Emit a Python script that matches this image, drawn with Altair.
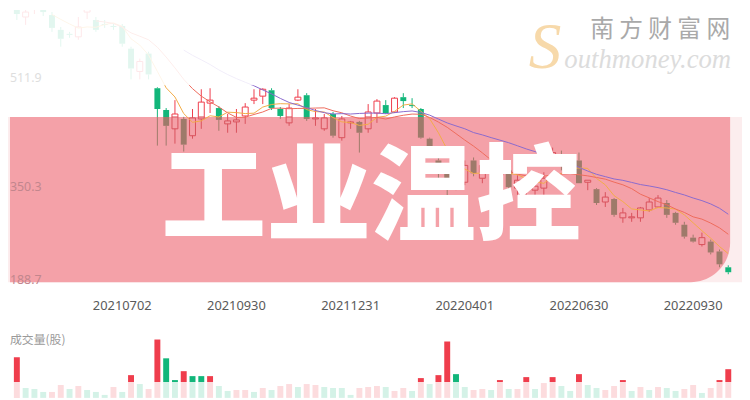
import altair as alt
import pandas as pd

# ---------------- data (weekly candles) ----------------
opens = [631.1, 601.9, 615.0, 616.5, 604.8, 582.9, 577.0, 572.6, 609.2, 597.5,
         591.6, 588.7, 588.7, 555.1, 521.4, 547.8, 496.6, 464.4, 436.6, 451.2,
         426.4, 451.2, 474.6, 467.3, 443.9, 446.8, 455.6, 479.0, 484.9, 493.6,
         465.9, 445.4, 479.0, 486.3, 451.2, 436.6, 458.5, 423.5, 445.4, 446.8,
         436.6, 460.0, 471.7, 461.5, 483.4, 471.7, 465.9, 422.0, 389.8, 375.2,
         353.3, 357.6, 389.8, 363.5, 382.5, 367.9, 375.2, 348.9, 345.9, 345.9,
         348.9, 392.7, 397.1, 382.5, 389.8, 357.6, 347.4, 328.4, 332.8, 305.0,
         305.0, 305.0, 316.7, 321.1, 326.9, 312.3, 294.8, 275.7, 265.5, 269.9,
         255.3, 231.9]
closes = [606.3, 609.2, 618.0, 609.2, 585.8, 569.7, 575.5, 587.2, 618.0, 582.9,
          590.2, 587.2, 562.4, 525.8, 536.1, 517.0, 465.9, 441.0, 458.5, 413.2,
          452.7, 476.1, 479.0, 449.8, 448.3, 449.8, 468.8, 481.9, 495.1, 467.3,
          455.6, 467.3, 483.4, 451.2, 452.7, 452.7, 426.4, 451.2, 446.8, 430.8,
          461.5, 477.6, 460.0, 481.9, 477.6, 470.2, 423.5, 404.4, 378.1, 353.3,
          367.9, 382.5, 370.8, 382.5, 372.3, 378.1, 350.3, 360.6, 353.3, 351.8,
          363.5, 401.5, 382.5, 389.8, 356.2, 360.6, 326.9, 335.7, 309.4, 312.3,
          306.5, 319.6, 328.4, 334.2, 309.4, 297.7, 277.2, 269.9, 275.7, 253.8,
          236.3, 224.6]
highs = [638.4, 623.8, 623.8, 620.9, 609.2, 587.2, 579.9, 601.9, 623.8, 601.9,
         597.5, 591.6, 591.6, 558.0, 540.4, 550.7, 498.0, 467.3, 479.0, 454.2,
         465.9, 495.1, 496.6, 470.2, 458.5, 465.9, 474.6, 495.1, 496.6, 496.6,
         468.8, 473.2, 495.1, 489.3, 465.9, 458.5, 461.5, 455.6, 448.3, 448.3,
         473.2, 480.5, 479.0, 483.4, 489.3, 481.9, 467.3, 423.5, 397.1, 382.5,
         375.2, 389.8, 394.2, 389.8, 389.8, 385.4, 382.5, 367.9, 360.6, 360.6,
         372.3, 408.8, 404.4, 397.1, 401.5, 360.6, 348.9, 343.0, 334.2, 319.6,
         312.3, 321.1, 334.2, 338.6, 331.3, 313.8, 299.1, 280.1, 283.1, 272.8,
         258.2, 234.8]
lows = [597.5, 590.2, 606.3, 603.3, 579.9, 558.0, 571.2, 568.2, 598.9, 579.9,
        585.8, 582.9, 558.0, 509.7, 509.7, 509.7, 411.8, 411.8, 414.7, 403.0,
        422.0, 436.6, 460.0, 433.7, 430.8, 430.8, 443.9, 473.2, 473.2, 464.4,
        451.2, 441.0, 477.6, 448.3, 441.0, 433.7, 423.5, 419.1, 436.6, 401.5,
        430.8, 445.4, 458.5, 460.0, 467.3, 467.3, 422.0, 401.5, 360.6, 331.3,
        345.9, 353.3, 366.4, 356.2, 363.5, 360.6, 331.3, 338.6, 334.2, 338.6,
        338.6, 389.8, 375.2, 375.2, 356.2, 345.9, 324.0, 321.1, 306.5, 297.7,
        299.1, 299.1, 313.8, 319.6, 305.0, 294.8, 274.3, 268.4, 262.6, 250.9,
        231.9, 221.6]
volumes = [41, 10, 9, 6, 6, 13, 9, 12, 8, 6,
           3, 11, 6, 23, 14, 9, 59, 40, 18, 27,
           22, 22, 22, 12, 7, 8, 8, 6, 10, 8,
           12, 14, 11, 14, 13, 11, 10, 10, 3, 10,
           11, 12, 11, 7, 10, 7, 20, 14, 23, 57,
           24, 11, 8, 9, 8, 18, 9, 9, 21, 9,
           15, 21, 12, 7, 24, 13, 10, 8, 12, 18,
           7, 11, 8, 11, 10, 7, 9, 13, 5, 10,
           18, 29]
volume_dir = list("RGGGRRGRGG" "GRGRGRRGGR" "GGRGGRRGRG" "RRGRRGGGGR"
                  "RRGRRGRGRR" "GGRRGRGRRG" "RRGGRGGRRR" "GRGRGGRRGR" "RR")
x_tick_index = [12, 25, 38, 51, 64, 77]
x_tick_labels = ["20210702", "20210930", "20211231", "20220401", "20220630", "20220930"]
y_tick_values = [511.9, 350.3, 188.7]
title_text = "工业温控"
watermark_cn = "南 方 财 富 网"
watermark_s = "S"
watermark_en = "outhmoney.com"
volume_title = "成交量(股)"

# ---------------- layout / styles ----------------
W, H = 742, 392
X_DOMAIN = [-0.4444, 82.0]
P_DOMAIN = [38.8, 612.1]
V_DOMAIN = [0, 60]
UP, DOWN = "#ef3d4c", "#12b67a"
IN_UP, IN_DOWN = "#d9525c", "#9e7a6a"
BAND = "#f4a1a8"
BAND_Y0, BAND_Y1 = 108, 275


def px_to_price(p):
    return P_DOMAIN[1] - p / H * (P_DOMAIN[1] - P_DOMAIN[0])


BT, BB = px_to_price(BAND_Y0), px_to_price(BAND_Y1)

n = len(opens)
df = pd.DataFrame({"i": range(n), "open": opens, "close": closes,
                   "high": highs, "low": lows})
df["top"] = df[["open", "close"]].max(axis=1)
df["bot"] = df[["open", "close"]].min(axis=1)
df["dir"] = ["up" if c >= o else "down" for o, c in zip(opens, closes)]

segs = []
for r in df.itertuples():
    if r.high > r.top:
        segs.append((r.i, r.dir, r.high, r.top))
    if r.bot > r.low:
        segs.append((r.i, r.dir, r.bot, r.low))
wick = pd.DataFrame(segs, columns=["i", "dir", "y", "y2"])


def clip_df(d, a, b):
    out = d.copy()
    out["y"] = out[a].clip(upper=BT)
    out["y2"] = out[b].clip(lower=BB)
    out = out[(out["y"] > out["y2"]) & (out["i"] <= 80)]
    return out


wick_in = clip_df(wick, "y", "y2")
body_in = clip_df(df, "top", "bot")

vdf = pd.DataFrame({"i": range(n), "vol": volumes, "vdir": volume_dir})

xs = alt.Scale(domain=X_DOMAIN, nice=False, zero=False)
X = alt.X("i:Q", scale=xs, axis=None)


def Y(field):
    return alt.Y(f"{field}:Q", scale=alt.Scale(domain=P_DOMAIN, nice=False, zero=False), axis=None)


deco = alt.Chart(pd.DataFrame({"d": [0]}))


def rect(x0, x1, y0, y1, **kw):
    return deco.mark_rect(**kw).encode(x=alt.value(x0), x2=alt.value(x1),
                                       y=alt.value(y0), y2=alt.value(y1))


strip = rect(0, W, BAND_Y0, BAND_Y1, color="#fcedee")

wicks = alt.Chart(wick).mark_rule(strokeWidth=1, clip=True).encode(
    x=X, y=Y("y"), y2="y2:Q",
    color=alt.condition("datum.dir == 'up'", alt.value(UP), alt.value(DOWN)))
bodies_dn = alt.Chart(df[df.dir == "down"]).mark_bar(size=6, clip=True, color=DOWN).encode(
    x=X, y=Y("top"), y2="bot:Q")
bodies_up = alt.Chart(df[df.dir == "up"]).mark_bar(
    size=6, clip=True, fillOpacity=0, stroke=UP, strokeWidth=1).encode(
    x=X, y=Y("top"), y2="bot:Q")

band = rect(2, 730, BAND_Y0, BAND_Y1, color=BAND, cornerRadiusBottomRight=40)

wicks_in = alt.Chart(wick_in).mark_rule(strokeWidth=1).encode(
    x=X, y=Y("y"), y2="y2:Q",
    color=alt.condition("datum.dir == 'up'", alt.value(IN_UP), alt.value(IN_DOWN)))
bodies_in_dn = alt.Chart(body_in[body_in.dir == "down"]).mark_bar(size=6, color=IN_DOWN).encode(
    x=X, y=Y("y"), y2="y2:Q")
bodies_in_up = alt.Chart(body_in[body_in.dir == "up"]).mark_bar(
    size=6, fillOpacity=0, stroke=IN_UP, strokeWidth=1).encode(
    x=X, y=Y("y"), y2="y2:Q")


def ma_layer(k, color):
    return alt.Chart(df).transform_window(
        ma="mean(close)", rn="row_number()", frame=[-(k - 1), 0], sort=[alt.SortField("i")]
    ).transform_filter(f"datum.rn >= {k}").mark_line(
        strokeWidth=1, color=color, clip=True).encode(x=X, y=Y("ma"))


ma5 = ma_layer(5, "#f2ac48")
ma10 = ma_layer(10, "#ee6b5c")
ma20 = ma_layer(20, "#8a6acd")

ylab_df = pd.DataFrame({"v": y_tick_values})
ylab_mid = alt.Chart(ylab_df.iloc[[1]]).mark_text(
    align="left", baseline="middle", fontSize=12.5, font="Noto Sans", color="#c2868d").encode(
    x=alt.value(2), y=Y("v"), text=alt.Text("v:Q", format=".1f"))
ylab_low = alt.Chart(ylab_df.iloc[[2]]).mark_text(
    align="left", baseline="middle", fontSize=12.5, font="Noto Sans", color="#c2868d", dy=-17).encode(
    x=alt.value(2), y=Y("v"), text=alt.Text("v:Q", format=".1f"))

top_fade = rect(0, W, 0, 76, color="white", opacity=0.88)

ylab_top = alt.Chart(ylab_df.iloc[[0]]).mark_text(
    align="left", baseline="middle", fontSize=12.5, font="Noto Sans", color="#dedede").encode(
    x=alt.value(2), y=Y("v"), text=alt.Text("v:Q", format=".1f"))

big = deco.mark_text(font="Noto Sans CJK SC", fontSize=106, fontWeight=900, color="white",
                     align="center", baseline="middle").encode(
    x=alt.value(367), y=alt.value(192), text=alt.value(title_text))

wm_s = deco.mark_text(font="Liberation Serif", fontStyle="italic", fontSize=66,
                      color="#f7d9aa", align="center", baseline="alphabetic").encode(
    x=alt.value(543), y=alt.value(59), text=alt.value(watermark_s))
wm_en = deco.mark_text(font="Liberation Serif", fontStyle="italic", fontSize=27,
                       color="#dcdcdc", align="right", baseline="alphabetic").encode(
    x=alt.value(731), y=alt.value(59), text=alt.value(watermark_en))
wm_cn = deco.mark_text(font="Noto Sans CJK SC", fontSize=24, color="#a9a9a9",
                       align="right", baseline="middle").encode(
    x=alt.value(730), y=alt.value(20), text=alt.value(watermark_cn))

xlab = alt.Chart(pd.DataFrame({"i": x_tick_index, "t": x_tick_labels})).mark_text(
    fontSize=13, font="Noto Sans", color="#5a5a5a", baseline="middle").encode(
    x=X, y=alt.value(299), text="t:N")

vol = alt.Chart(vdf).mark_bar(size=6).encode(
    x=X,
    y=alt.Y("vol:Q", scale=alt.Scale(domain=V_DOMAIN, range=[H, H - 60], nice=False, zero=True), axis=None),
    color=alt.condition("datum.vdir == 'R'", alt.value(UP), alt.value(DOWN)))
vol_fade = rect(0, W, 376, H, color="white", opacity=0.82)
vol_title = deco.mark_text(font="Noto Sans CJK SC", fontSize=12, color="#9a9a9a",
                           align="left", baseline="middle").encode(
    x=alt.value(2), y=alt.value(334), text=alt.value(volume_title))

chart = alt.layer(
    strip, wicks, bodies_dn, bodies_up, band, wicks_in, bodies_in_dn, bodies_in_up,
    ma5, ma10, ma20, ylab_mid, ylab_low, top_fade, ylab_top, big,
    wm_s, wm_en, wm_cn, xlab, vol, vol_fade, vol_title
).resolve_scale(y="independent").properties(
    width=W, height=H, padding=0, background="white",
    autosize=alt.AutoSizeParams(type="none")
).configure_view(stroke=None)

chart.save("out.html", embed_options={"renderer": "svg", "actions": False})
